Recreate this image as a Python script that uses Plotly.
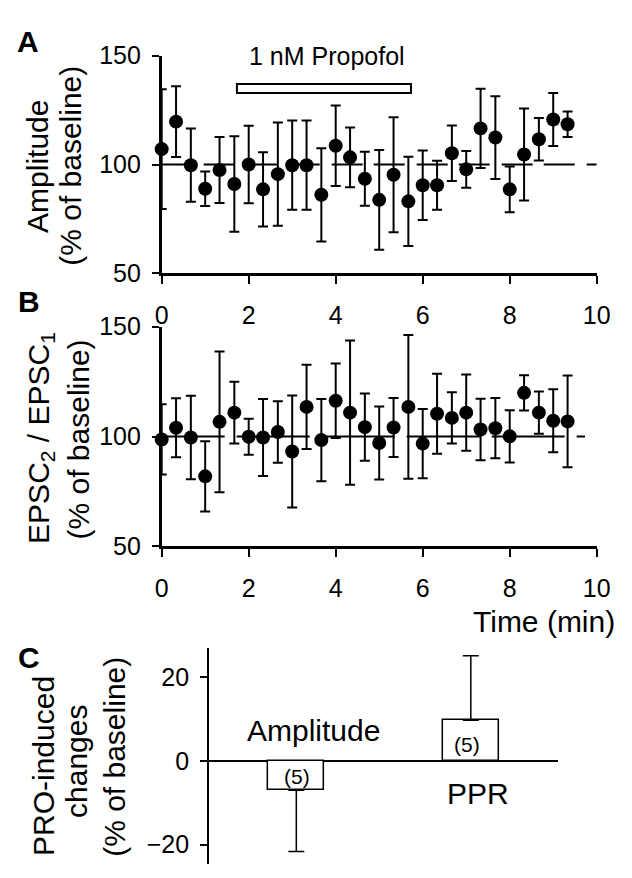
import plotly.graph_objects as go

W, H = 632, 878

# ---------------- data ----------------
time_min = [0.0, 0.33, 0.67, 1.0, 1.33, 1.67, 2.0, 2.33, 2.67, 3.0, 3.33, 3.67, 4.0, 4.33, 4.67,
            5.0, 5.33, 5.67, 6.0, 6.33, 6.67, 7.0, 7.33, 7.67, 8.0, 8.33, 8.67, 9.0, 9.33]

amp_mean = [107.1, 119.7, 99.7, 88.9, 97.5, 91.1, 100.0, 88.6, 95.6, 99.7, 99.7, 86.1, 108.6, 103.3, 93.5,
            83.8, 95.3, 83.1, 90.5, 90.5, 105.2, 97.8, 116.6, 112.4, 88.6, 104.6, 111.6, 120.7, 118.5]
amp_err = [27.5, 16.2, 16.8, 7.9, 15.2, 21.9, 17.8, 17.1, 23.7, 20.5, 20.5, 21.4, 18.5, 13.7, 12.4,
           22.9, 26.4, 20.5, 16.0, 11.2, 12.7, 8.4, 18.2, 19.0, 10.5, 21.1, 9.8, 12.2, 5.9]

ppr_mean = [98.7, 104.0, 99.6, 81.9, 106.7, 110.9, 99.9, 99.6, 102.1, 93.2, 113.5, 98.4, 116.3, 110.9, 104.3,
            97.1, 104.1, 113.5, 96.8, 110.4, 108.5, 110.9, 103.2, 103.8, 100.1, 119.9, 110.9, 107.2, 106.9]
ppr_err = [16.0, 13.4, 19.0, 16.0, 32.0, 14.0, 8.2, 17.5, 14.0, 25.5, 19.2, 18.7, 17.0, 32.8, 15.3,
           16.6, 13.4, 32.7, 15.8, 18.2, 11.7, 17.4, 14.0, 13.7, 11.9, 8.0, 9.6, 14.3, 20.9]

baseline_a_x = [0.0, 10.0]
baseline_b_x = [0.0, 9.73]
baseline_y = [100, 100]

drug_start, drug_end = 1.73, 5.73
drug_label = "1 nM Propofol"

change_cats = ["Amplitude", "PPR"]
change_mean = [-7.0, 9.7]
change_err = [14.6, 15.4]
change_n = [5, 5]

x_ticks = [0, 2, 4, 6, 8, 10]
y_ticks_ab = [50, 100, 150]
y_ticks_c = [-20, 0, 20]

# ---------------- helpers ----------------
def fx(p):
    return p / W

def fy(p):
    return 1 - p / H

FONT = "Arial, Liberation Sans, sans-serif"
TICK = dict(family=FONT, size=25, color="black")
TITLE = 30

fig = go.Figure()

# baseline lines
fig.add_trace(go.Scatter(x=baseline_a_x, y=baseline_y, mode="lines", xaxis="x", yaxis="y",
                         line=dict(color="black", width=2, dash="31px,11px,31px,12px"),
                         showlegend=False, hoverinfo="skip"))
fig.add_trace(go.Scatter(x=baseline_b_x, y=baseline_y, mode="lines", xaxis="x2", yaxis="y2",
                         line=dict(color="black", width=2,
                                   dash="63px,12px,73px,12px,73px,12px,73px,12px,73px,12px,73px,12px"),
                         showlegend=False, hoverinfo="skip"))

# panel A points
fig.add_trace(go.Scatter(x=time_min, y=amp_mean, mode="markers", xaxis="x", yaxis="y",
                         marker=dict(color="black", size=14),
                         error_y=dict(type="data", array=amp_err, color="black", thickness=2, width=5),
                         cliponaxis=False, showlegend=False))
# panel B points
fig.add_trace(go.Scatter(x=time_min, y=ppr_mean, mode="markers", xaxis="x2", yaxis="y2",
                         marker=dict(color="black", size=14),
                         error_y=dict(type="data", array=ppr_err, color="black", thickness=2, width=5),
                         cliponaxis=False, showlegend=False))

# panel C bars
plus = [e if m > 0 else 0 for m, e in zip(change_mean, change_err)]
minus = [e if m < 0 else 0 for m, e in zip(change_mean, change_err)]
fig.add_trace(go.Bar(x=change_cats, y=change_mean, xaxis="x3", yaxis="y3", width=0.32,
                     marker=dict(color="white", line=dict(color="black", width=1.5)),
                     error_y=dict(type="data", symmetric=False, array=plus, arrayminus=minus,
                                  color="black", thickness=1.5, width=8),
                     showlegend=False))

axis_common = dict(showline=True, linecolor="black", linewidth=2.5, ticks="outside", tickcolor="black",
                   tickwidth=2, showgrid=False, zeroline=False, tickfont=TICK)

fig.update_layout(
    width=W, height=H, margin=dict(l=0, r=0, t=0, b=0),
    paper_bgcolor="white", plot_bgcolor="white",
    font=dict(family=FONT, color="black"),
    xaxis=dict(domain=[fx(160), fx(610)], range=[0, 10], tickvals=x_ticks, ticklen=8,
               ticklabelstandoff=10, anchor="y", **axis_common),
    yaxis=dict(domain=[fy(268), fy(43)], range=[50, 150], tickvals=y_ticks_ab, ticklen=7,
               ticklabelstandoff=6, anchor="x", **axis_common),
    xaxis2=dict(domain=[fx(160), fx(610)], range=[0, 10], tickvals=x_ticks, ticklen=8,
                ticklabelstandoff=10, anchor="y2", **axis_common),
    yaxis2=dict(domain=[fy(550), fy(323)], range=[50, 150], tickvals=y_ticks_ab, ticklen=7,
                ticklabelstandoff=6, anchor="x2", **axis_common),
    xaxis3=dict(domain=[fx(209), fx(570)], range=[-0.5, 1.5], type="category", visible=False,
                anchor="y3"),
    yaxis3=dict(domain=[0, fy(655)], range=[-24.6, 26.9], tickvals=y_ticks_c, ticklen=7,
                ticklabelstandoff=6, anchor="x3", showline=True, linecolor="black", linewidth=2,
                ticks="outside", tickcolor="black", tickwidth=1.5, showgrid=False,
                zeroline=True, zerolinecolor="black", zerolinewidth=2, tickfont=TICK),
    bargap=0,
)

# drug application bar
fig.add_shape(type="rect", xref="x", yref="y", x0=drug_start, x1=drug_end, y0=132.8, y1=137.0,
              line=dict(color="black", width=2), fillcolor="white", layer="above")

ann = []

def add_text(text, x, y, size, angle=0, bold=False, xanchor="center"):
    t = f"<b>{text}</b>" if bold else text
    ann.append(dict(text=t, x=fx(x), y=fy(y), xref="paper", yref="paper", showarrow=False,
                    textangle=angle, xanchor=xanchor, yanchor="middle",
                    font=dict(family=FONT, size=size, color="black")))

add_text("A", 22, 28, 30, bold=True)
add_text("B", 23, 297, 30, bold=True)
add_text("C", 23, 665, 30, bold=True)
add_text(drug_label, 331, 43, 25)

add_text("Amplitude", 32, 157, TITLE, angle=-90)
add_text("(% of baseline)", 66, 157, TITLE, angle=-90)
add_text("EPSC<sub>2</sub> / EPSC<sub>1</sub>", 34, 438, TITLE, angle=-90)
add_text("(% of baseline)", 74, 440, TITLE, angle=-90)
add_text("PRO-induced", 37, 777, TITLE, angle=-90)
add_text("changes", 72, 772, TITLE, angle=-90)
add_text("(% of baseline)", 111, 767, TITLE, angle=-90)

add_text("Time (min)", 631, 628, TITLE, xanchor="right")

add_text(change_cats[0], 317, 740, TITLE)
add_text(change_cats[1], 487, 805, TITLE)
add_text(f"({change_n[0]})", 300, 788, 21)
add_text(f"({change_n[1]})", 476, 755, 21)

fig.update_layout(annotations=ann)

fig.write_html(
    "out.html",
    config={"displayModeBar": False},
    post_script="document.body.style.margin='0';document.body.style.padding='0';"
                "document.documentElement.style.overflow='hidden';document.body.style.overflow='hidden';",
)
